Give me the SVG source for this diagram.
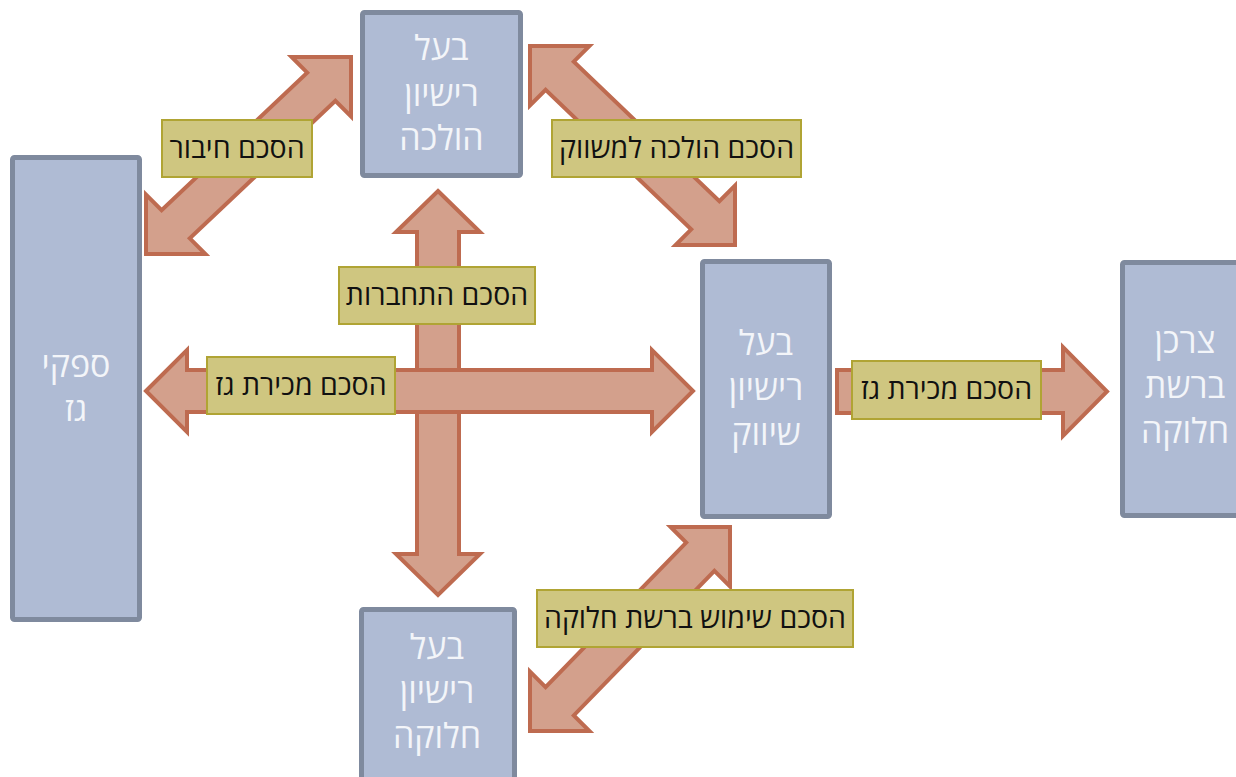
<svg xmlns="http://www.w3.org/2000/svg" width="1236" height="777" viewBox="0 0 1236 777">
<style>
.node rect{fill:#AFBBD4;stroke:#7F8A9E;stroke-width:5}
.node text{fill:#F3F5F9;font-family:"Open Sans","Liberation Sans","DejaVu Sans",sans-serif;font-size:34px;text-anchor:middle}
.arrow{fill:#D3A08C;stroke:#BE6B50;stroke-width:4;stroke-linejoin:miter}
.label rect{fill:#CFC680;stroke:#B0A434;stroke-width:2}
.label text{fill:#111;font-family:"Open Sans","Liberation Sans","DejaVu Sans",sans-serif;font-size:28.5px;text-anchor:middle}
</style>
<rect width="1236" height="777" fill="#fff"/>
<g id="connectors">
<polygon class="arrow" points="438,191 480,232 459,232 459,554 480,554 438,595 396,554 417,554 417,232 396,232"/>
<polygon class="arrow" points="146,391 187,350 187,370 652,370 652,350 693,391 652,432 652,412 187,412 187,432"/>
<polygon class="arrow" points="351,57 351,116.4 335.4,100.8 189.8,238.4 205.4,254 146,254 146,194.6 161.6,210.2 307.2,72.6 291.6,57"/>
<polygon class="arrow" points="530,46 589.4,46 573.8,61.6 719.4,201.2 735,185.6 735,245 675.6,245 691.2,229.4 545.6,89.8 530,105.4"/>
<polygon class="arrow" points="730,527 730,586.4 714.4,570.8 573.8,715.4 589.4,731 530,731 530,671.6 545.6,687.2 686.2,542.6 670.6,527"/>
<polygon class="arrow" points="837,370 1063,370 1063,347 1107,391.5 1063,436 1063,413 837,413"/>
<g class="label" id="label-hibur"><rect x="162" y="120" width="150" height="57"/><text x="237" y="158">הסכם חיבור</text></g>
<g class="label" id="label-holacha"><rect x="552" y="120" width="249" height="57"/><text x="676.5" y="158">הסכם הולכה למשווק</text></g>
<g class="label" id="label-hithabrut"><rect x="339" y="267" width="196" height="57"/><text x="437" y="305">הסכם התחברות</text></g>
<g class="label" id="label-mechira1"><rect x="207" y="357" width="188" height="57"/><text x="301" y="395">הסכם מכירת גז</text></g>
<g class="label" id="label-mechira2"><rect x="852" y="361" width="189" height="58"/><text x="946.5" y="399">הסכם מכירת גז</text></g>
<g class="label" id="label-shimush"><rect x="537" y="590" width="316" height="57"/><text x="695" y="628">הסכם שימוש ברשת חלוקה</text></g>
</g>
<g id="node-supplier" class="node"><rect x="12.5" y="157.5" width="127" height="462" rx="2"/><text x="76" y="377">ספקי</text><text x="76" y="421" style="font-size:33px">גז</text></g>
<g id="node-transmission" class="node"><rect x="362.5" y="12.5" width="158" height="163" rx="2"/><text x="441.5" y="60">בעל</text><text x="441.5" y="106">רישיון</text><text x="441.5" y="150">הולכה</text></g>
<g id="node-marketer" class="node"><rect x="702.5" y="261.5" width="127" height="255" rx="2"/><text x="766" y="355">בעל</text><text x="766" y="400">רישיון</text><text x="766" y="445">שיווק</text></g>
<g id="node-consumer" class="node"><rect x="1122.5" y="262.5" width="130" height="253" rx="2"/><text x="1185" y="353">צרכן</text><text x="1185" y="398">ברשת</text><text x="1185" y="443">חלוקה</text></g>
<g id="node-distribution" class="node"><rect x="361.5" y="609.5" width="153" height="180" rx="2"/><text x="437" y="659">בעל</text><text x="437" y="703">רישיון</text><text x="437" y="748">חלוקה</text></g>
</svg>
